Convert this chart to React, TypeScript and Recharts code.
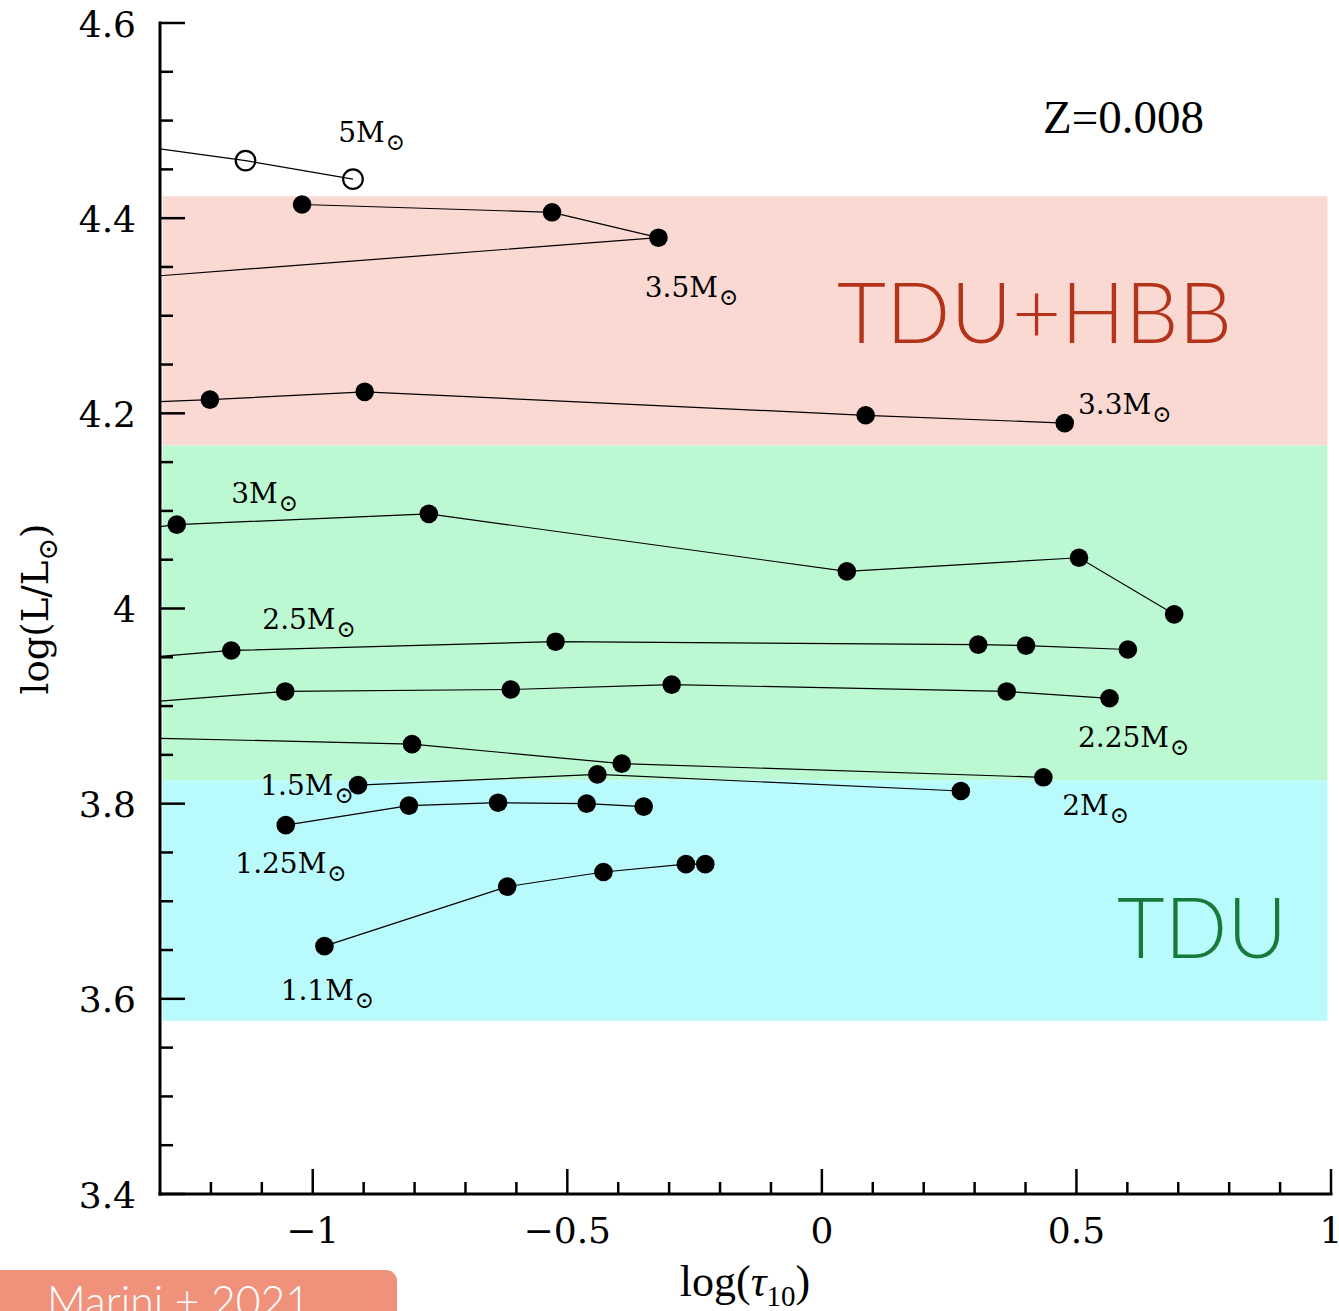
import React from 'react';
import { ScatterChart, Scatter, XAxis, YAxis, ReferenceArea, ReferenceDot } from 'recharts';

// log(tau_10) vs log(L/Lsun) along each track
const track5 = [
  { tau: -1.3, lum: 4.471 },
  { tau: -1.132, lum: 4.459 },
  { tau: -0.921, lum: 4.44 },
];
const track35 = [
  { tau: -1.3, lum: 4.341 },
  { tau: -0.321, lum: 4.38 },
  { tau: -0.53, lum: 4.406 },
  { tau: -1.021, lum: 4.414 },
];
const track33 = [
  { tau: -1.3, lum: 4.212 },
  { tau: -1.202, lum: 4.214 },
  { tau: -0.898, lum: 4.222 },
  { tau: 0.086, lum: 4.198 },
  { tau: 0.477, lum: 4.19 },
];
const track3 = [
  { tau: -1.3, lum: 4.084 },
  { tau: -1.267, lum: 4.086 },
  { tau: -0.772, lum: 4.097 },
  { tau: 0.049, lum: 4.038 },
  { tau: 0.505, lum: 4.052 },
  { tau: 0.692, lum: 3.994 },
];
const track25 = [
  { tau: -1.3, lum: 3.951 },
  { tau: -1.16, lum: 3.957 },
  { tau: -0.523, lum: 3.966 },
  { tau: 0.307, lum: 3.963 },
  { tau: 0.401, lum: 3.962 },
  { tau: 0.601, lum: 3.958 },
];
const track225 = [
  { tau: -1.3, lum: 3.905 },
  { tau: -1.054, lum: 3.915 },
  { tau: -0.611, lum: 3.917 },
  { tau: -0.295, lum: 3.922 },
  { tau: 0.363, lum: 3.915 },
  { tau: 0.565, lum: 3.908 },
];
const track2 = [
  { tau: -1.3, lum: 3.867 },
  { tau: -0.805, lum: 3.861 },
  { tau: -0.393, lum: 3.841 },
  { tau: 0.435, lum: 3.827 },
];
const track15 = [
  { tau: -0.911, lum: 3.819 },
  { tau: -0.441, lum: 3.83 },
  { tau: 0.273, lum: 3.813 },
];
const track125 = [
  { tau: -1.053, lum: 3.778 },
  { tau: -0.811, lum: 3.798 },
  { tau: -0.636, lum: 3.801 },
  { tau: -0.462, lum: 3.8 },
  { tau: -0.35, lum: 3.797 },
];
const track11 = [
  { tau: -0.977, lum: 3.654 },
  { tau: -0.618, lum: 3.715 },
  { tau: -0.429, lum: 3.73 },
  { tau: -0.267, lum: 3.738 },
  { tau: -0.229, lum: 3.738 },
];

const filledTracks = [track35, track33, track3, track25, track225, track2, track15, track125, track11];

// mass labels: text and anchor (left, baseline) in data units
const massLabels = [
  { mass: '5', tau: -0.95, lum: 4.478 },
  { mass: '3.5', tau: -0.348, lum: 4.319 },
  { mass: '3.3', tau: 0.503, lum: 4.199 },
  { mass: '3', tau: -1.16, lum: 4.108 },
  { mass: '2.5', tau: -1.099, lum: 3.979 },
  { mass: '2.25', tau: 0.503, lum: 3.858 },
  { mass: '2', tau: 0.472, lum: 3.788 },
  { mass: '1.5', tau: -1.103, lum: 3.809 },
  { mass: '1.25', tau: -1.152, lum: 3.729 },
  { mass: '1.1', tau: -1.063, lum: 3.599 },
];

// shaded regimes (lum ranges)
const hbbBand = [4.167, 4.4225];
const tduUpperBand = [3.824, 4.167];
const tduLowerBand = [3.5775, 3.824];
const bandTau = [-1.295, 0.993];

const xTicks = [-1.2, -1.1, -1, -0.9, -0.8, -0.7, -0.6, -0.5, -0.4, -0.3, -0.2, -0.1, 0, 0.1, 0.2, 0.3, 0.4, 0.5, 0.6, 0.7, 0.8, 0.9, 1];
const yTicks = [3.4, 3.45, 3.5, 3.55, 3.6, 3.65, 3.7, 3.75, 3.8, 3.85, 3.9, 3.95, 4, 4.05, 4.1, 4.15, 4.2, 4.25, 4.3, 4.35, 4.4, 4.45, 4.5, 4.55, 4.6];

const TICK_FONT = '"DejaVu Serif", serif';
const isMajorX = (v: number) => Math.abs(v * 2 - Math.round(v * 2)) < 1e-6;
const isMajorY = (v: number) => Math.abs(v * 5 - Math.round(v * 5)) < 1e-6;
const fmt = (v: number) => (v < 0 ? '\u2212' + String(-v) : String(v));

const BottomTick = ({ x, y, payload }: any) => {
  const major = isMajorX(payload.value);
  return (
    <g>
      <line x1={x} y1={y} x2={x} y2={y - (major ? 25 : 12)} stroke="#000" strokeWidth={2.5} />
      {major && (
        <text x={x} y={y + 49} textAnchor="middle" fontFamily={TICK_FONT} fontSize={36} fill="#000">
          {fmt(payload.value)}
        </text>
      )}
    </g>
  );
};

const TopTick = ({ x, y, payload }: any) => {
  const major = isMajorX(payload.value);
  return <line x1={x} y1={y} x2={x} y2={y + (major ? 25 : 12)} stroke="#000" strokeWidth={2.5} />;
};

const LeftTick = ({ x, y, payload }: any) => {
  const major = isMajorY(payload.value);
  return (
    <g>
      <line x1={x} y1={y} x2={x + (major ? 25 : 13)} y2={y} stroke="#000" strokeWidth={2.5} />
      {major && (
        <text x={x - 24} y={y + 13.5} textAnchor="end" fontFamily={TICK_FONT} fontSize={36} fill="#000">
          {String(payload.value)}
        </text>
      )}
    </g>
  );
};

const RightTick = ({ x, y, payload }: any) => {
  const major = isMajorY(payload.value);
  return <line x1={x} y1={y} x2={x - (major ? 25 : 13)} y2={y} stroke="#000" strokeWidth={2.5} />;
};

// points sitting on the left frame are where the track leaves the plot: no marker
const FilledDot = (props: any) => {
  if (props.payload.tau <= -1.3) return <g />;
  return <circle cx={props.cx} cy={props.cy} r={9.3} fill="#000" />;
};
const OpenDot = (props: any) => {
  if (props.payload.tau <= -1.3) return <g />;
  return <circle cx={props.cx} cy={props.cy} r={9.8} fill="none" stroke="#000" strokeWidth={2.2} />;
};

const MassLabel = ({ cx, cy, mass }: any) => (
  <text x={cx} y={cy} fontFamily={TICK_FONT} fontSize={28} fill="#000">
    {mass}M
    <tspan fontSize={23} dx={1} dy={8}>
      {'\u2299'}
    </tspan>
  </text>
);

const frame = { stroke: '#000', strokeWidth: 3, strokeLinecap: 'square' as const };

const App = () => {
  return (
    <div style={{ position: 'absolute', left: 0, top: 0, width: 1339, height: 1311, background: '#fff', overflow: 'hidden' }}>
      <ScatterChart width={1339} height={1311} margin={{ top: 23, right: 8, bottom: 0, left: 0 }}>
        <ReferenceArea xAxisId="b" yAxisId="l" x1={bandTau[0]} x2={bandTau[1]} y1={hbbBand[0]} y2={hbbBand[1]} fill="#fad9d3" fillOpacity={1} stroke="none" />
        <ReferenceArea xAxisId="b" yAxisId="l" x1={bandTau[0]} x2={bandTau[1]} y1={tduUpperBand[0]} y2={tduUpperBand[1]} fill="#bcf9d3" fillOpacity={1} stroke="none" />
        <ReferenceArea xAxisId="b" yAxisId="l" x1={bandTau[0]} x2={bandTau[1]} y1={tduLowerBand[0]} y2={tduLowerBand[1]} fill="#b9fbfc" fillOpacity={1} stroke="none" />

        <XAxis xAxisId="b" dataKey="tau" type="number" domain={[-1.3, 1]} ticks={xTicks} interval={0} height={117}
          tickSize={0} tickMargin={0} tickLine={false} axisLine={frame} tick={<BottomTick />} />
        <XAxis xAxisId="t" orientation="top" dataKey="tau" type="number" domain={[-1.3, 1]} ticks={xTicks} interval={0} height={0}
          tickSize={0} tickMargin={0} tickLine={false} axisLine={frame} tick={<TopTick />} />
        <YAxis yAxisId="l" dataKey="lum" type="number" domain={[3.4, 4.6]} ticks={yTicks} interval={0} width={160}
          tickSize={0} tickMargin={0} tickLine={false} axisLine={frame} tick={<LeftTick />} />
        <YAxis yAxisId="r" orientation="right" dataKey="lum" type="number" domain={[3.4, 4.6]} ticks={yTicks} interval={0} width={0}
          tickSize={0} tickMargin={0} tickLine={false} axisLine={frame} tick={<RightTick />} />

        <Scatter xAxisId="b" yAxisId="l" data={track5} line={{ stroke: '#000', strokeWidth: 1.2 }} shape={<OpenDot />} isAnimationActive={false} />
        {filledTracks.map((t, i) => (
          <Scatter key={i} xAxisId="b" yAxisId="l" data={t} line={{ stroke: '#000', strokeWidth: 1.2 }} shape={<FilledDot />} isAnimationActive={false} />
        ))}

        {massLabels.map((m) => (
          <ReferenceDot key={m.mass} xAxisId="b" yAxisId="l" x={m.tau} y={m.lum} r={0}
            shape={(p: any) => <MassLabel cx={p.cx} cy={p.cy} mass={m.mass} />} />
        ))}
      </ScatterChart>

      <svg width={1339} height={1311} style={{ position: 'absolute', left: 0, top: 0, pointerEvents: 'none' }}>
        <text x={1043} y={133} fontFamily='"Liberation Serif", serif' fontSize={47} fill="#000">Z=0.008</text>
        <text x={837} y={343} fontFamily="Lato, sans-serif" fontWeight={300} fontSize={85} fill="#b3341a"
          textLength={395} lengthAdjust="spacingAndGlyphs">TDU+HBB</text>
        <text x={1117} y={958} fontFamily="Lato, sans-serif" fontWeight={300} fontSize={85} fill="#17793a"
          textLength={170} lengthAdjust="spacingAndGlyphs">TDU</text>

        <text x={745} y={1296} textAnchor="middle" fontFamily='"Liberation Serif", serif' fontSize={44} fill="#000">
          log(<tspan fontStyle="italic">{'\u03C4'}</tspan>
          <tspan fontSize={29} dy={10}>10</tspan>
          <tspan dy={-10}>)</tspan>
        </text>
        <text transform="translate(48,609) rotate(-90)" textAnchor="middle" fontFamily={TICK_FONT} fontSize={37} fill="#000">
          log(L/L<tspan fontSize={27} dy={9}>{'\u2299'}</tspan>
          <tspan dy={-9}>)</tspan>
        </text>

        <rect x={-12} y={1270} width={409} height={60} rx={11} fill="#f0917c" />
        <text x={47} y={1317} fontFamily="Lato, sans-serif" fontWeight={300} fontSize={44} fill="#fff"
          textLength={263} lengthAdjust="spacingAndGlyphs">Marini + 2021</text>
      </svg>
    </div>
  );
};

export default App;
